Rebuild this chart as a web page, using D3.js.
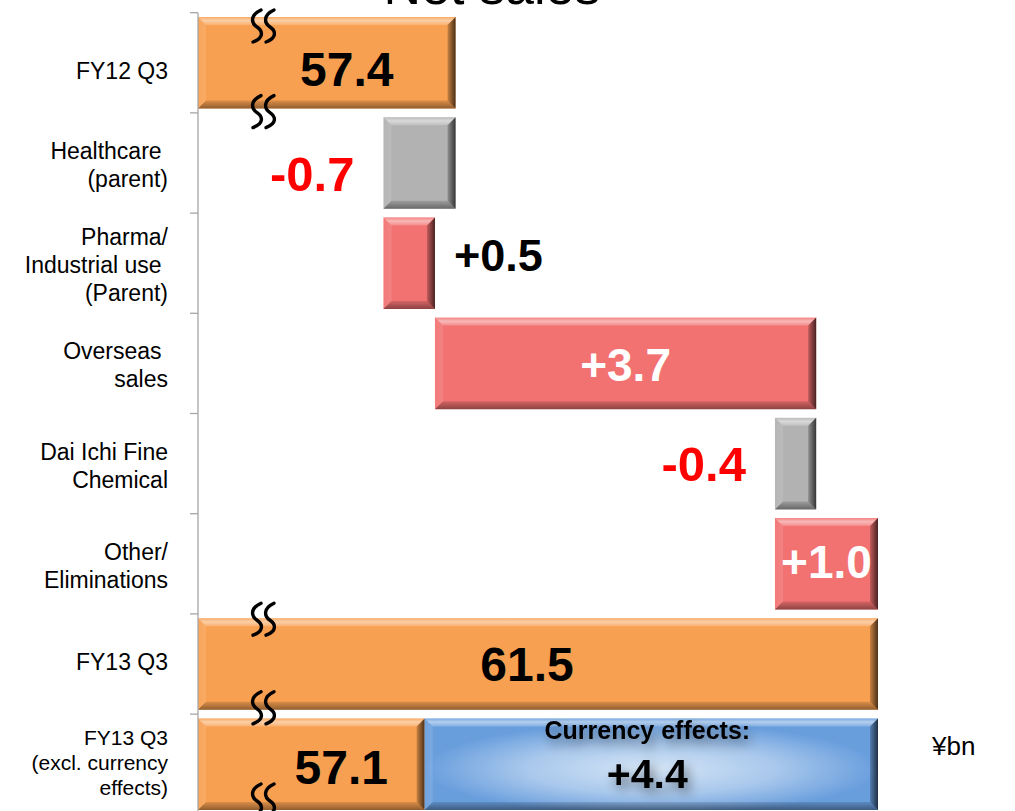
<!DOCTYPE html>
<html>
<head>
<meta charset="utf-8">
<script src="https://cdn.jsdelivr.net/npm/d3@7/dist/d3.min.js"></script>
<style>
  html, body { margin: 0; padding: 0; background: #ffffff; }
  svg { display: block; }
  text { font-family: "Liberation Sans", Arial, Helvetica, sans-serif; white-space: pre; }
</style>
</head>
<body>
<div id="chart"></div>
<script>
// ---------------- data ----------------
const title = "Net sales";
const unitLabel = "¥bn";
const categories = [
  "FY12 Q3",
  "Healthcare \n(parent)",
  "Pharma/\nIndustrial use \n(Parent)",
  "Overseas \nsales",
  "Dai Ichi Fine\nChemical",
  "Other/\nEliminations",
  "FY13 Q3",
  "FY13 Q3\n(excl. currency\neffects)"
];
const barTypes = ["total", "delta", "delta", "delta", "delta", "delta", "total", "total"];
const values = [57.4, -0.7, 0.5, 3.7, -0.4, 1.0, 61.5, 57.1];
const currencyLabel = "Currency effects:";
const currencyValue = 4.4;
const axisDomain = [54.9, 61.5];   // broken axis: visible part only

// ---------------- layout / style ----------------
const W = 1015, H = 811;
const plot = { left: 198, right: 878, top: 15, bottom: 812 };
const colors = { total: "#F8A051", up: "#F27272", down: "#B2B2B2", blueEdge: "#699EDD", blueMid: "#A9C8EC", blueCenter: "#D5E5F6" };
// label nudges [dx, dy] relative to default anchor (dy from band center)
const labelNudge = [[20, 23], [0, 28], [0, 8], [0, 18], [0, 17], [0, 14], [-11, 17], [30, 20]];
const catFontSize = [23, 23, 23, 23, 23, 23, 23, 21];
const catLineHeight = [28, 28, 28, 28, 28, 28, 28, 25];
const catNudge = [6, 0, 0, 0, 0, 0, -4, -4];

const svg = d3.select("#chart").append("svg").attr("width", W).attr("height", H);
const defs = svg.append("defs");

function linGrad(id, x2, y2, stops) {
  const g = defs.append("linearGradient").attr("id", id)
    .attr("x1", 0).attr("y1", 0).attr("x2", x2).attr("y2", y2);
  stops.forEach(s => g.append("stop").attr("offset", s[0]).attr("stop-color", s[1]).attr("stop-opacity", s[2]));
}
linGrad("bvTop", 0, 1, [[0, "#fff", 0.12], [0.45, "#fff", 0.5], [1, "#fff", 0.18]]);
linGrad("bvBottom", 0, 1, [[0, "#000", 0.12], [1, "#000", 0.42]]);
linGrad("bvRight", 1, 0, [[0, "#000", 0.2], [1, "#000", 0.7]]);
linGrad("bvLeft", 1, 0, [[0, "#fff", 0.05], [1, "#fff", 0.12]]);
const rg = defs.append("radialGradient").attr("id", "blueGlow").attr("cx", 0.5).attr("cy", 0.55).attr("r", 0.5);
rg.append("stop").attr("offset", 0).attr("stop-color", colors.blueCenter);
rg.append("stop").attr("offset", 0.55).attr("stop-color", colors.blueMid);
rg.append("stop").attr("offset", 1).attr("stop-color", colors.blueEdge);
const sh = defs.append("filter").attr("id", "txtShadow").attr("x", "-30%").attr("y", "-60%").attr("width", "160%").attr("height", "220%");
sh.append("feGaussianBlur").attr("in", "SourceAlpha").attr("stdDeviation", 6).attr("result", "blur");
sh.append("feOffset").attr("in", "blur").attr("dx", 4).attr("dy", 6).attr("result", "off");
sh.append("feComponentTransfer").attr("in", "off").attr("result", "soft")
  .append("feFuncA").attr("type", "linear").attr("slope", 0.45);
const mg = sh.append("feMerge");
mg.append("feMergeNode").attr("in", "soft");
mg.append("feMergeNode").attr("in", "SourceGraphic");

// ---------------- scales ----------------
const x = d3.scaleLinear().domain(axisDomain).range([plot.left, plot.right]);
const y = d3.scaleBand().domain(categories).range([plot.top, plot.bottom])
  .paddingInner(0.086).paddingOuter(0.02);

// ---------------- waterfall ----------------
let running = 0;
const bars = values.map((v, i) => {
  let start, end;
  if (barTypes[i] === "total") { start = axisDomain[0]; end = v; running = v; }
  else { start = running; end = running + v; running = end; }
  return { i, cat: categories[i], type: barTypes[i], value: v, start, end };
});

function bevelBar(g, x0, y0, w, h, fill) {
  const b = Math.min(8, w / 4, h / 4);
  g.append("rect").attr("x", x0).attr("y", y0).attr("width", w).attr("height", h).attr("fill", fill);
  const poly = (pts, f) => g.append("polygon").attr("points", pts.map(p => p.join(",")).join(" ")).attr("fill", f);
  poly([[x0, y0], [x0 + w, y0], [x0 + w - b, y0 + b], [x0 + b, y0 + b]], "url(#bvTop)");
  poly([[x0, y0], [x0 + b, y0 + b], [x0 + b, y0 + h - b], [x0, y0 + h]], "url(#bvLeft)");
  poly([[x0, y0 + h], [x0 + b, y0 + h - b], [x0 + w - b, y0 + h - b], [x0 + w, y0 + h]], "url(#bvBottom)");
  poly([[x0 + w, y0], [x0 + w, y0 + h], [x0 + w - b, y0 + h - b], [x0 + w - b, y0 + b]], "url(#bvRight)");
}

const gBars = svg.append("g");
bars.forEach(d => {
  const x0 = x(Math.min(d.start, d.end)), x1 = x(Math.max(d.start, d.end));
  const fill = d.type === "total" ? colors.total : (d.value >= 0 ? colors.up : colors.down);
  bevelBar(gBars.append("g"), x0, y(d.cat), x1 - x0, y.bandwidth(), fill);
});

// currency effect bar on the last row
const lastBar = bars[bars.length - 1];
const cx0 = x(lastBar.value), cx1 = x(lastBar.value + currencyValue);
bevelBar(gBars.append("g"), cx0, y(lastBar.cat), cx1 - cx0, y.bandwidth(), "url(#blueGlow)");

// ---------------- axis ----------------
const axisColor = "#A6A6A6";
const gAxis = svg.append("g");
const step = y.step();
const boundaries = categories.map(c => y(c) - step * y.paddingInner() / 2);
boundaries.push(plot.bottom);
gAxis.append("line").attr("x1", plot.left).attr("x2", plot.left)
  .attr("y1", boundaries[0]).attr("y2", H).attr("stroke", axisColor).attr("stroke-width", 1.3);
gAxis.selectAll("line.tick").data(boundaries.slice(0, -1)).join("line").attr("class", "tick")
  .attr("x1", plot.left - 8).attr("x2", plot.left).attr("y1", d => d).attr("y2", d => d)
  .attr("stroke", axisColor).attr("stroke-width", 1.3);

// category labels
const gCat = svg.append("g");
categories.forEach((c, i) => {
  const lines = c.split("\n");
  const lh = catLineHeight[i];
  const cy = y(c) + y.bandwidth() / 2;
  const first = cy - (lines.length - 1) * lh / 2 + 10 + catNudge[i];
  const t = gCat.append("text").attr("text-anchor", "end").attr("font-size", catFontSize[i]).attr("fill", "#000");
  lines.forEach((ln, k) => t.append("tspan").attr("x", 168).attr("y", first + k * lh).text(ln));
});

// break marks (axis discontinuity symbols)
function breakMark(cy) {
  [257, 270].forEach(cx => {
    svg.append("path")
      .attr("d", `M${cx + 4},${cy - 16} C${cx - 7},${cy - 11} ${cx - 6},${cy - 3} ${cx},${cy + 1} C${cx + 6},${cy + 5} ${cx + 7},${cy + 12} ${cx - 4},${cy + 16}`)
      .attr("fill", "none").attr("stroke", "#000").attr("stroke-width", 3.4).attr("stroke-linecap", "round");
  });
}
const totalsIdx = bars.filter(d => d.type === "total").map(d => d.i);
const b0 = categories[totalsIdx[0]], b1 = categories[totalsIdx[1]], b2 = categories[totalsIdx[2]];
breakMark(y(b0) + 9);
breakMark(y(b0) + y.bandwidth() + 3);
breakMark(y(b1) + 1);
breakMark(y(b1) + y.bandwidth() - 2);
breakMark(y(b2) + y.bandwidth() - 10);

// ---------------- value labels ----------------
const locale = d3.formatLocale({ decimal: ".", thousands: ",", grouping: [3], currency: ["", ""], minus: "-" });
const fmtTotal = locale.format(".1f"), fmtDelta = locale.format("+.1f");
const gLab = svg.append("g").attr("font-weight", "bold");
bars.forEach(d => {
  const x0 = x(Math.min(d.start, d.end)), x1 = x(Math.max(d.start, d.end));
  const cy = y(d.cat) + y.bandwidth() / 2;
  const [dx, dy] = labelNudge[d.i];
  let tx, anchor, fill, size;
  if (d.type === "total") {
    tx = (x0 + x1) / 2; anchor = "middle"; fill = "#000"; size = 48;
  } else if (d.value < 0) {
    tx = x0 - 29; anchor = "end"; fill = "#FF0000"; size = 49;
  } else if (x1 - x0 > 80) {
    tx = (x0 + x1) / 2; anchor = "middle"; fill = "#fff"; size = 46;
  } else {
    tx = x1 + 19; anchor = "start"; fill = "#000"; size = 45;
  }
  gLab.append("text").attr("x", tx + dx).attr("y", cy + dy)
    .attr("text-anchor", anchor).attr("fill", fill).attr("font-size", size)
    .text(d.type === "total" ? fmtTotal(d.value) : fmtDelta(d.value));
});

// currency effect labels
const ccx = (cx0 + cx1) / 2 - 4;
const lastTop = y(lastBar.cat);
gLab.append("text").attr("x", ccx).attr("y", lastTop + 21).attr("text-anchor", "middle")
  .attr("font-size", 25).attr("fill", "#000").attr("filter", "url(#txtShadow)").text(currencyLabel);
gLab.append("text").attr("x", ccx).attr("y", lastTop + 70).attr("text-anchor", "middle")
  .attr("font-size", 41).attr("fill", "#000").attr("filter", "url(#txtShadow)").text(fmtDelta(currencyValue));

// unit label
svg.append("text").attr("x", 932).attr("y", 755).attr("font-size", 26).attr("fill", "#000").text(unitLabel);

// title (cut off at top, as in the reference)
svg.append("text").attr("x", 492).attr("y", 4).attr("text-anchor", "middle")
  .attr("font-size", 52).attr("fill", "#000").text(title);
</script>
</body>
</html>
